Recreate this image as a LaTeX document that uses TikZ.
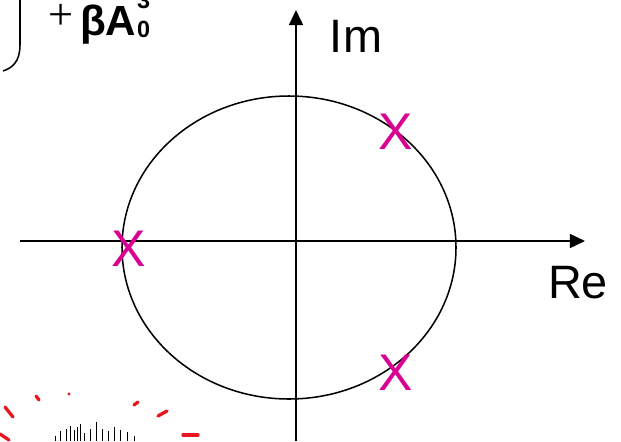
\documentclass[tikz,border=0pt]{standalone}
\usepackage{fontspec}
\setmainfont{Liberation Sans}
\newfontfamily\plusfont{Liberation Serif}
\usetikzlibrary{arrows.meta}
\definecolor{mymagenta}{RGB}{218,0,145}
\definecolor{myred}{RGB}{232,20,30}

\begin{document}
\begin{tikzpicture}[x=0.03cm,y=-0.03cm,
  axis/.style={line width=1.7pt,-{Triangle[length=13pt,width=12pt]}},
  pole/.style={text=mymagenta,font=\fontsize{44}{44}\selectfont,inner sep=0pt},
  axislabel/.style={font=\fontsize{40}{40}\selectfont,inner sep=0pt},
  splash/.style={myred,line width=2.8pt,line cap=round}]
  \useasboundingbox (0,0) rectangle (621,441);

  % axes
  \coordinate (ReStart) at (20,241);
  \coordinate (ReEnd) at (585,241);
  \coordinate (ImStart) at (296,441);
  \coordinate (ImEnd) at (296,10);
  \draw[axis] (ReStart) -- (ReEnd);
  \draw[axis] (ImStart) -- (ImEnd);
  \node[axislabel] (Im) at (356,36) {Im};
  \node[axislabel] (Re) at (578,283) {Re};

  % unit circle
  \draw[line width=1.3pt] (289,247.5) ellipse [x radius=167, y radius=151.5];

  % poles
  \node[pole] (p1) at (396,132) {X};
  \node[pole] (p2) at (129,249) {X};
  \node[pole] (p3) at (396,373) {X};

  % cut-off formula
  \draw[line width=1.3pt] (20,0) -- (20,45) .. controls (20,62) and (12,68) .. (3,71);
  \node[font=\fontsize{38}{38}\selectfont\plusfont,inner sep=0pt] (plus) at (61,17) {+};
  \node[font=\fontsize{36}{36}\selectfont\bfseries,inner sep=0pt,anchor=base west] (betaA) at (80,35) {βA};
  \node[font=\fontsize{20}{20}\selectfont\bfseries,inner sep=0pt,anchor=base west] (sub) at (137,37) {0};
  \node[font=\fontsize{20}{20}\selectfont\bfseries,inner sep=0pt,anchor=base west] (sup) at (137,8) {3};

  % picture fragment
  \draw[splash] (5,407) -- (13,417);
  \draw[splash] (36,396) -- (39,400);
  \fill[myred] (69,394) circle (1.3pt);
  \draw[splash] (134,405) -- (138,402);
  \draw[splash] (158,416) -- (167,411);
  \draw[splash] (183,435) -- (198,435);
  \draw[splash] (0,434) -- (9,440);
  \foreach \x/\t in {55/436,60/431,66/429,70/426,74/430,77/427,80/424,84/433,90/429,96/422,102/429,108/431,114/427,120/430,127/432,134/436}
    \draw[line width=0.6pt] (\x,441) -- (\x,\t);
\end{tikzpicture}
\end{document}
